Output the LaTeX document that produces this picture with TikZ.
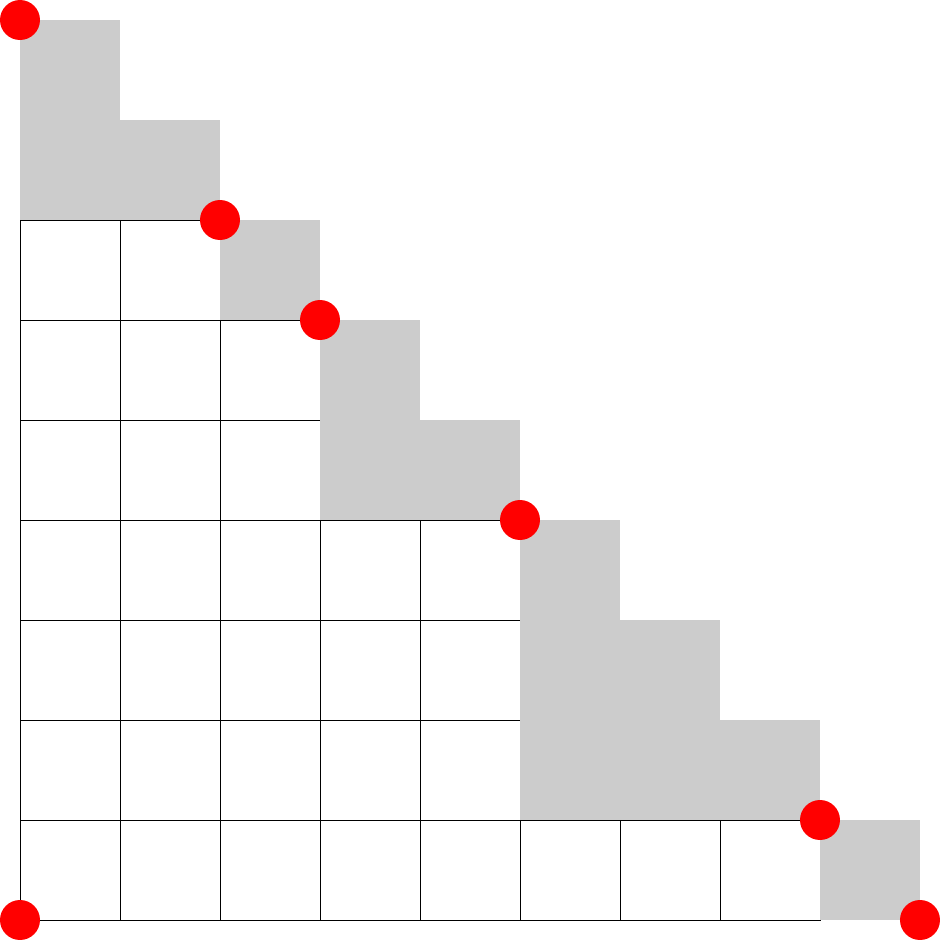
\documentclass[tikz,border=0pt]{standalone}
\definecolor{cellgray}{HTML}{CCCCCC}
\definecolor{dotred}{HTML}{FF0000}
\begin{document}
\begin{tikzpicture}[x=1cm,y=1cm,
  cellbox/.style={draw=black,line width=0.28pt,fill=white},
  graybox/.style={fill=cellgray,draw=none},
  reddot/.style={circle,fill=dotred,draw=none,minimum size=0.4cm,inner sep=0pt}]
\useasboundingbox (-0.2,-0.2) rectangle (9.2,9.2);
% column/white rows/gray rows
\foreach \c/\w/\g in {0/7/2,1/7/1,2/6/1,3/4/2,4/4/1,5/1/3,6/1/2,7/1/1,8/0/1}{
  \pgfmathtruncatemacro{\top}{\w+\g}
  \fill[cellgray] (\c,\w) rectangle (\c+1,\top);
  \ifnum\w>0
    \foreach \r in {1,...,\w}{
      \draw[cellbox] (\c,\r-1) rectangle (\c+1,\r);
    }
  \fi
}
\node[reddot] (d1) at (0,9) {};
\node[reddot] (d2) at (2,7) {};
\node[reddot] (d3) at (3,6) {};
\node[reddot] (d4) at (5,4) {};
\node[reddot] (d5) at (8,1) {};
\node[reddot] (d6) at (0,0) {};
\node[reddot] (d7) at (9,0) {};
\end{tikzpicture}
\end{document}
